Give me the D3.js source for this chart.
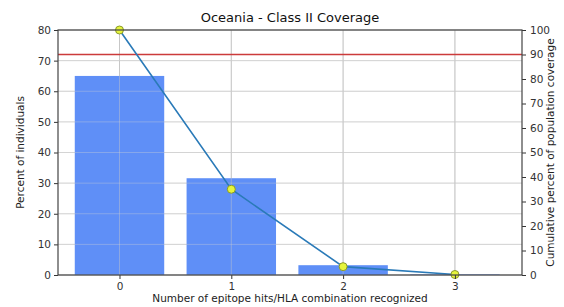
<!DOCTYPE html>
<html>
<head>
<meta charset="utf-8">
<script src="https://cdn.jsdelivr.net/npm/d3@7"></script>
<style>
  body { margin: 0; background: #fff; }
  text { font-family: "DejaVu Sans", sans-serif; }
</style>
</head>
<body>
<div id="chart"></div>
<script>
// hits recognized vs percent of individuals, plus cumulative coverage
const hits = [0, 1, 2, 3];
const percentIndividuals = [65.0, 31.6, 3.2, 0.2];
const cumulativeCoverage = [100, 35.0, 3.4, 0.2];
const leftTicks = [0, 10, 20, 30, 40, 50, 60, 70, 80];
const rightTicks = [0, 10, 20, 30, 40, 50, 60, 70, 80, 90, 100];
const thresholdLine = 90;

const width = 564, height = 307;
const margin = { top: 30, right: 42, bottom: 32, left: 58 };
const innerWidth = width - margin.left - margin.right;
const innerHeight = height - margin.top - margin.bottom;

const svg = d3.select("#chart").append("svg")
    .attr("width", width).attr("height", height);
const g = svg.append("g").attr("transform", `translate(${margin.left},${margin.top})`);

const x = d3.scaleLinear().domain([-0.55, 3.6]).range([0, innerWidth]);
const y = d3.scaleLinear().domain([0, 80]).range([innerHeight, 0]);
const y2 = d3.scaleLinear().domain([0, 100]).range([innerHeight, 0]);

// grid
g.append("g").selectAll("line").data(leftTicks).enter().append("line")
    .attr("x1", 0).attr("x2", innerWidth)
    .attr("y1", d => y(d)).attr("y2", d => y(d))
    .attr("stroke", "#d4d4d4").attr("stroke-width", 1);
g.append("g").selectAll("line").data(hits).enter().append("line")
    .attr("x1", d => x(d)).attr("x2", d => x(d))
    .attr("y1", 0).attr("y2", innerHeight)
    .attr("stroke", "#c8c8c8").attr("stroke-width", 1);

// bars
const barW = x(0.8) - x(0);
g.selectAll(".bar").data(hits).enter().append("rect")
    .attr("class", "bar")
    .attr("x", d => x(d) - barW / 2)
    .attr("y", (d, i) => y(percentIndividuals[i]))
    .attr("width", barW)
    .attr("height", (d, i) => innerHeight - y(percentIndividuals[i]))
    .attr("fill", "#5f8ff7");

// grid shows faintly through bars
g.append("g").selectAll("line").data(hits).enter().append("line")
    .attr("x1", d => x(d)).attr("x2", d => x(d))
    .attr("y1", 0).attr("y2", innerHeight)
    .attr("stroke", "#c8c8c8").attr("stroke-opacity", 0.45).attr("stroke-width", 1);
g.append("g").selectAll("line").data(leftTicks).enter().append("line")
    .attr("x1", 0).attr("x2", innerWidth)
    .attr("y1", d => y(d)).attr("y2", d => y(d))
    .attr("stroke", "#d4d4d4").attr("stroke-opacity", 0.35).attr("stroke-width", 1);

// threshold
g.append("line")
    .attr("x1", 0).attr("x2", innerWidth)
    .attr("y1", y2(thresholdLine)).attr("y2", y2(thresholdLine))
    .attr("stroke", "#cc3b3b").attr("stroke-width", 1.5);

// cumulative line
const pts = hits.map((d, i) => [x(d), y2(cumulativeCoverage[i])]);
g.append("path").datum(pts)
    .attr("d", d3.line())
    .attr("fill", "none").attr("stroke", "#2a7ab8").attr("stroke-width", 1.6);
g.selectAll(".dot").data(pts).enter().append("circle")
    .attr("cx", d => d[0]).attr("cy", d => d[1]).attr("r", 4)
    .attr("fill", "#e6f53c").attr("stroke", "#8a9a2a").attr("stroke-width", 1);

// axes
const axisStyle = sel => {
    sel.selectAll("text").attr("fill", "#333").style("font-size", "10.5px");
    sel.selectAll(".tick line").attr("stroke", "#333");
    sel.select(".domain").remove();
};
g.append("g").call(d3.axisLeft(y).tickValues(leftTicks).tickSize(4).tickPadding(3)).call(axisStyle);
g.append("g").attr("transform", `translate(${innerWidth},0)`)
    .call(d3.axisRight(y2).tickValues(rightTicks).tickSize(4).tickPadding(4)).call(axisStyle);
g.append("g").attr("transform", `translate(0,${innerHeight})`)
    .call(d3.axisBottom(x).tickValues(hits).tickFormat(d3.format("d")).tickSize(4).tickPadding(4)).call(axisStyle);

// frame
g.append("rect").attr("width", innerWidth).attr("height", innerHeight)
    .attr("fill", "none").attr("stroke", "#444").attr("stroke-width", 1.2);

// labels
svg.append("text").attr("x", margin.left + innerWidth / 2).attr("y", 22)
    .attr("text-anchor", "middle").style("font-size", "13px").attr("fill", "#111")
    .text("Oceania - Class II Coverage");
svg.append("text").attr("x", margin.left + innerWidth / 2).attr("y", 302)
    .attr("text-anchor", "middle").style("font-size", "10.5px").attr("fill", "#222")
    .text("Number of epitope hits/HLA combination recognized");
svg.append("text").attr("transform", `translate(24,${margin.top + innerHeight / 2}) rotate(-90)`)
    .attr("text-anchor", "middle").style("font-size", "10.5px").attr("fill", "#222")
    .text("Percent of individuals");
svg.append("text").attr("transform", `translate(554,${margin.top + innerHeight / 2}) rotate(-90)`)
    .attr("text-anchor", "middle").style("font-size", "10.5px").attr("fill", "#222")
    .text("Cumulative percent of population coverage");
</script>
</body>
</html>
